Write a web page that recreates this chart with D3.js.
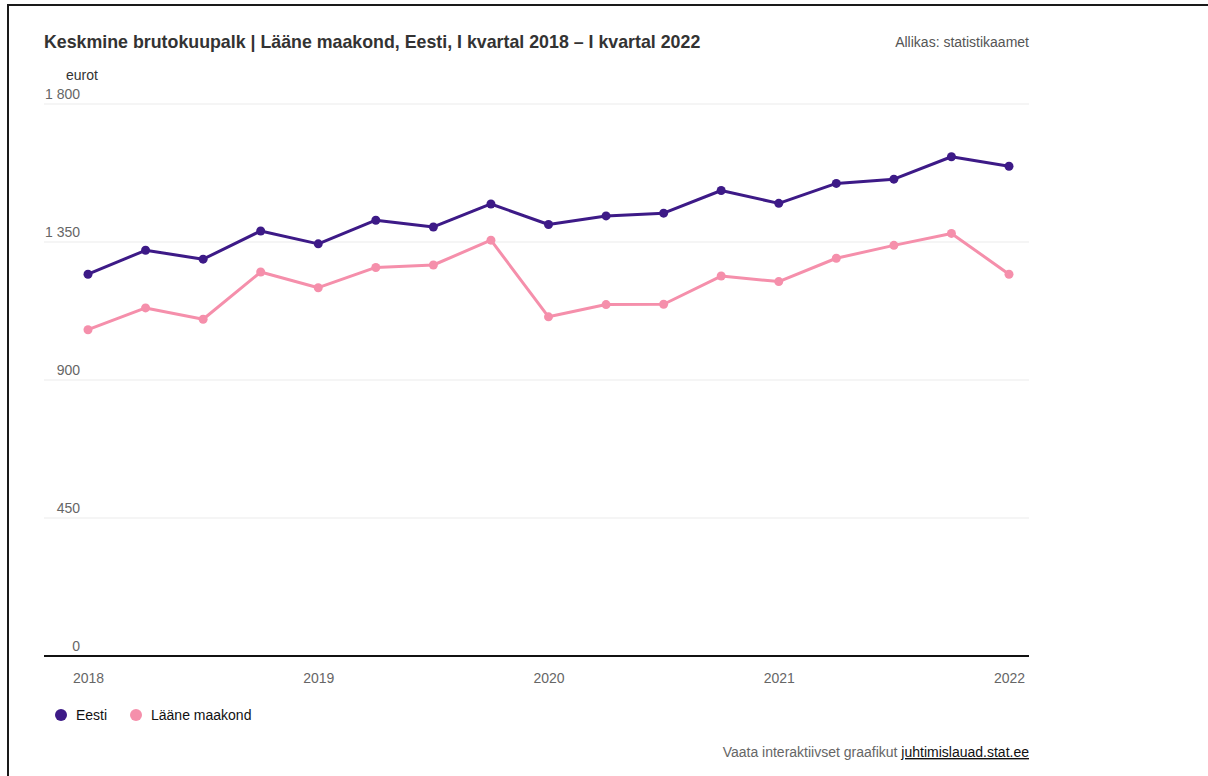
<!DOCTYPE html>
<html>

<head>
    <title>Keskmine brutokuupalk</title>
    <style>
        html,
        body {
            margin: 0;
            padding: 0;
            background-color: #ffffff;
            overflow: hidden;
        }

        svg text {
            font-family: "Liberation Sans", Arial, Helvetica, sans-serif;
        }
    </style>
</head>

<body>
    <div id="container"></div>

    <script src="https://cdn.jsdelivr.net/npm/d3@7"></script>

    <script>
        // kvartalid I 2018 .. I 2022
        var quarters = ["2018 I", "2018 II", "2018 III", "2018 IV",
            "2019 I", "2019 II", "2019 III", "2019 IV",
            "2020 I", "2020 II", "2020 III", "2020 IV",
            "2021 I", "2021 II", "2021 III", "2021 IV",
            "2022 I"];
        var eesti = [1245, 1323, 1294, 1386, 1344, 1421, 1399, 1474,
            1407, 1435, 1444, 1518, 1476, 1541, 1555, 1628, 1597];
        var laane = [1064, 1135, 1098, 1252, 1201, 1267, 1275, 1356,
            1106, 1146, 1147, 1239, 1221, 1297, 1339, 1378, 1245];
        var yTicks = [0, 450, 900, 1350, 1800];
        var xTicks = ["2018 I", "2019 I", "2020 I", "2021 I", "2022 I"];
        var seriesNames = ["Eesti", "Lääne maakond"];
        var colors = ["#3d1a87", "#f58fab"];

        var width = 1208, height = 776;
        var margin = { top: 104, right: 179, bottom: 120, left: 44 };

        var svg = d3.select("#container")
            .append("svg")
            .attr("width", width)
            .attr("height", height);

        // frame
        svg.append("line")
            .attr("x1", 7).attr("x2", width)
            .attr("y1", 5).attr("y2", 5)
            .style("stroke", "#1a1a1a").style("stroke-width", 2);
        svg.append("line")
            .attr("x1", 8).attr("x2", 8)
            .attr("y1", 4).attr("y2", height)
            .style("stroke", "#1a1a1a").style("stroke-width", 2);

        var x = d3.scalePoint()
            .domain(quarters)
            .range([88, 1009]);

        var y = d3.scaleLinear()
            .domain([0, 1800])
            .range([height - margin.bottom, margin.top]);

        var plotLeft = margin.left, plotRight = width - margin.right;

        // title & source
        svg.append("text")
            .attr("x", 44).attr("y", 48)
            .style("font-size", "17.8px").style("font-weight", "bold")
            .style("fill", "#333333")
            .text("Keskmine brutokuupalk | Lääne maakond, Eesti, I kvartal 2018 – I kvartal 2022");

        svg.append("text")
            .attr("x", plotRight).attr("y", 47)
            .attr("text-anchor", "end")
            .style("font-size", "14px").style("fill", "#555555")
            .text("Allikas: statistikaamet");

        svg.append("text")
            .attr("x", 66).attr("y", 80)
            .style("font-size", "14px").style("fill", "#333333")
            .text("eurot");

        // grid + y labels
        var grid = svg.append("g");
        grid.selectAll("line")
            .data(yTicks.filter(function (d) { return d > 0; }))
            .enter().append("line")
            .attr("x1", plotLeft).attr("x2", plotRight)
            .attr("y1", function (d) { return y(d); })
            .attr("y2", function (d) { return y(d); })
            .style("stroke", "#ebebeb").style("stroke-width", 1);

        grid.selectAll("text")
            .data(yTicks)
            .enter().append("text")
            .attr("x", 80)
            .attr("y", function (d) { return y(d) - 5; })
            .attr("text-anchor", "end")
            .style("font-size", "14px").style("fill", "#666666")
            .text(function (d) { return d3.format(",")(d).replace(",", " "); });

        // x axis
        var xAxis = d3.axisBottom(x)
            .tickValues(xTicks)
            .tickSize(0)
            .tickPadding(17)
            .tickFormat(function (d) { return d.split(" ")[0]; });

        var gx = svg.append("g")
            .attr("transform", "translate(0," + y(0) + ")")
            .call(xAxis);
        gx.select(".domain").remove();
        gx.selectAll("text")
            .style("font-family", "'Liberation Sans', Arial, sans-serif")
            .style("font-size", "14px").style("fill", "#666666");

        svg.append("line")
            .attr("x1", plotLeft).attr("x2", plotRight)
            .attr("y1", y(0)).attr("y2", y(0))
            .style("stroke", "#111111").style("stroke-width", 2);

        // lines
        var line = d3.line()
            .x(function (d, i) { return x(quarters[i]); })
            .y(function (d) { return y(d); });

        var series = [laane, eesti];
        var seriesColors = [colors[1], colors[0]];

        series.forEach(function (s, k) {
            svg.append("path")
                .datum(s)
                .attr("d", line)
                .style("fill", "none")
                .style("stroke", seriesColors[k])
                .style("stroke-width", 3)
                .style("stroke-linejoin", "round");

            svg.append("g").selectAll("circle")
                .data(s)
                .enter().append("circle")
                .attr("cx", function (d, i) { return x(quarters[i]); })
                .attr("cy", function (d) { return y(d); })
                .attr("r", 4.5)
                .style("fill", seriesColors[k]);
        });

        // legend
        var legendX = [61, 136];
        var legend = svg.append("g");
        seriesNames.forEach(function (name, i) {
            legend.append("circle")
                .attr("cx", legendX[i]).attr("cy", 715)
                .attr("r", 6)
                .style("fill", colors[i]);
            legend.append("text")
                .attr("x", legendX[i] + 15).attr("y", 720)
                .style("font-size", "14px").style("fill", "#111111")
                .text(name);
        });

        // footer
        var foot = svg.append("text")
            .attr("x", plotRight).attr("y", 757)
            .attr("text-anchor", "end")
            .style("font-size", "14px");
        foot.append("tspan")
            .style("fill", "#666666")
            .text("Vaata interaktiivset graafikut ");
        foot.append("tspan")
            .style("fill", "#111111")
            .style("text-decoration", "underline")
            .text("juhtimislauad.stat.ee");
    </script>
</body>

</html>
